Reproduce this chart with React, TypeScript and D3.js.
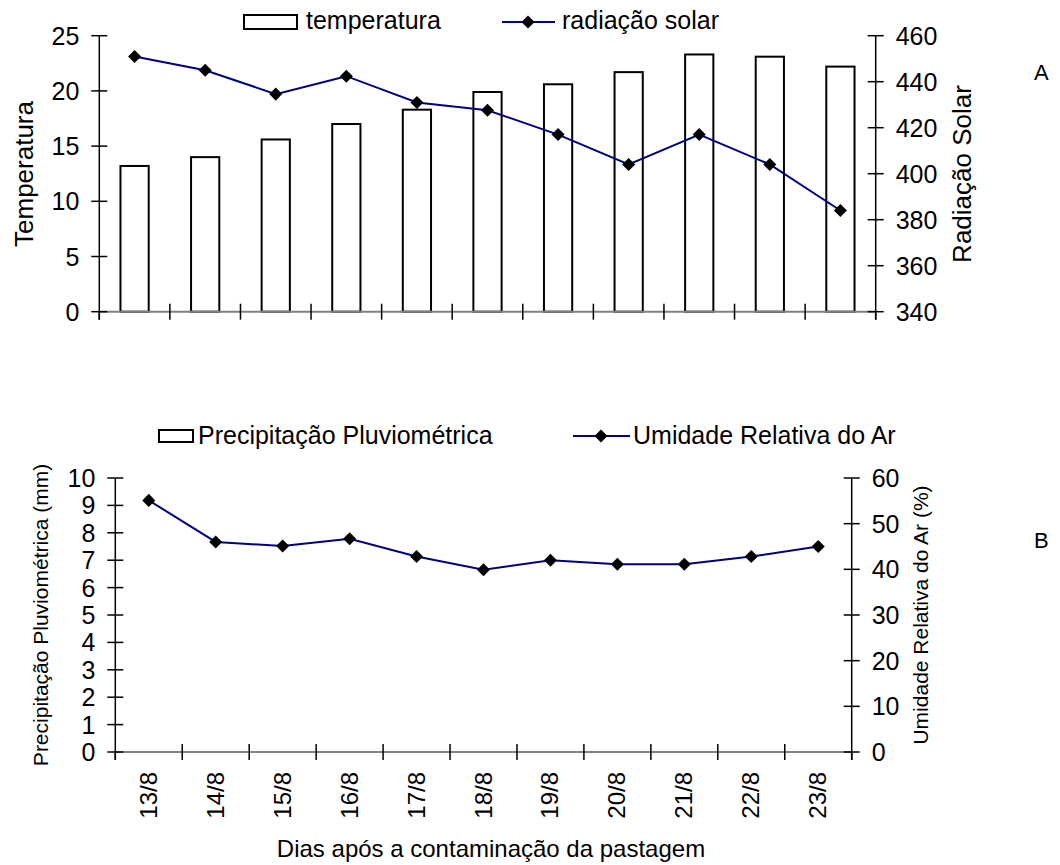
import React from "react";
import * as d3 from "d3";

const dates = ["13/8", "14/8", "15/8", "16/8", "17/8", "18/8", "19/8", "20/8", "21/8", "22/8", "23/8"];
const temperatura = [13.2, 14.0, 15.6, 17.0, 18.3, 19.9, 20.6, 21.7, 23.3, 23.1, 22.2];
const radiacao = [451, 445, 434.6, 442.4, 431, 427.6, 417, 404, 417, 404, 384];
const precipitacao = [0, 0, 0, 0, 0, 0, 0, 0, 0, 0, 0];
const umidade = [55.1, 46, 45.1, 46.7, 42.8, 39.9, 42, 41.1, 41.1, 42.8, 45];
const tempTicks = [0, 5, 10, 15, 20, 25];
const radTicks = [340, 360, 380, 400, 420, 440, 460];
const precTicks = [0, 1, 2, 3, 4, 5, 6, 7, 8, 9, 10];
const umidTicks = [0, 10, 20, 30, 40, 50, 60];

const FONT = "'Liberation Sans', Arial, sans-serif";
const NAVY = "#000080";
const diamond = d3.symbol().type(d3.symbolSquare).size(85)();

type PanelProps = {
  x0: number; x1: number; yTop: number; yBot: number;
  leftDomain: [number, number]; rightDomain: [number, number];
  leftTicks: number[]; rightTicks: number[];
  bars: number[]; line: number[];
  showLabels: boolean; tickFont: number;
};

function Panel(p: PanelProps) {
  const x = d3.scaleBand<string>().domain(dates).range([p.x0, p.x1]).paddingInner(0).paddingOuter(0);
  const yL = d3.scaleLinear().domain(p.leftDomain).range([p.yBot, p.yTop]);
  const yR = d3.scaleLinear().domain(p.rightDomain).range([p.yBot, p.yTop]);
  const bw = x.bandwidth() / 2.5;
  const cx = (d: string) => (x(d) as number) + x.bandwidth() / 2;
  const lineGen = d3.line<number>().x((_, i) => cx(dates[i])).y((v) => yR(v));
  const boundaries = dates.map((d) => x(d) as number).concat([p.x1]);
  return (
    <g>
      {p.bars.map((v, i) =>
        v > 0 ? (
          <rect key={"b" + i} x={cx(dates[i]) - bw / 2} y={yL(v)} width={bw} height={p.yBot - yL(v)}
            fill="white" stroke="black" strokeWidth={2} />
        ) : null
      )}
      <line x1={p.x0} x2={p.x1} y1={p.yBot} y2={p.yBot} stroke="#808080" strokeWidth={2} />
      {boundaries.map((b, i) => (
        <line key={"xt" + i} x1={b} x2={b} y1={p.yBot - (i === 0 || i === dates.length ? 0 : 8)} y2={p.yBot + 8} stroke="black" strokeWidth={1.5} />
      ))}
      <line x1={p.x0} x2={p.x0} y1={p.yTop} y2={p.yBot + 8} stroke="black" strokeWidth={1.5} />
      <line x1={p.x1} x2={p.x1} y1={p.yTop} y2={p.yBot + 8} stroke="black" strokeWidth={1.5} />
      {p.leftTicks.map((t) => (
        <g key={"lt" + t}>
          <line x1={p.x0 - 8} x2={p.x0 + 8} y1={yL(t)} y2={yL(t)} stroke="black" strokeWidth={1.5} />
          <text x={p.x0 - 20} y={yL(t)} dy="0.36em" textAnchor="end" fontSize={p.tickFont} fontFamily={FONT}>{t}</text>
        </g>
      ))}
      {p.rightTicks.map((t) => (
        <g key={"rt" + t}>
          <line x1={p.x1 - 8} x2={p.x1 + 8} y1={yR(t)} y2={yR(t)} stroke="black" strokeWidth={1.5} />
          <text x={p.x1 + 20} y={yR(t)} dy="0.36em" textAnchor="start" fontSize={p.tickFont} fontFamily={FONT}>{t}</text>
        </g>
      ))}
      <path d={lineGen(p.line) || ""} fill="none" stroke={NAVY} strokeWidth={2} />
      {p.line.map((v, i) => (
        <path key={"m" + i} d={diamond} transform={`translate(${cx(dates[i])},${yR(v)}) rotate(45)`} fill="black" />
      ))}
      {p.showLabels &&
        dates.map((d) => (
          <text key={"xl" + d} transform={`translate(${cx(d) + 8},${p.yBot + 20}) rotate(-90)`} textAnchor="end"
            fontSize={24} fontFamily={FONT}>{d}</text>
        ))}
    </g>
  );
}

export default function App() {
  return (
    <svg width={1060} height={865} style={{ position: "absolute", left: 0, top: 0, background: "white" }}
      fontFamily={FONT}>
      <rect width={1060} height={865} fill="white" />
      {/* Panel A */}
      <Panel x0={99.3} x1={875.7} yTop={35.7} yBot={311.7} leftDomain={[0, 25]} rightDomain={[340, 460]}
        leftTicks={tempTicks} rightTicks={radTicks} bars={temperatura} line={radiacao} showLabels={false} tickFont={25} />
      {/* Legend A */}
      <rect x={244} y={15} width={53} height={14} fill="white" stroke="black" strokeWidth={2} />
      <text x={306} y={29} fontSize={25} fontFamily={FONT}>temperatura</text>
      <line x1={502} x2={555} y1={22} y2={22} stroke={NAVY} strokeWidth={2} />
      <path d={diamond} transform="translate(528,22) rotate(45)" fill="black" />
      <text x={562} y={29} fontSize={25} fontFamily={FONT}>radiação solar</text>
      <text transform="translate(33,174) rotate(-90)" textAnchor="middle" fontSize={26} fontFamily={FONT}>Temperatura</text>
      <text transform="translate(971,174) rotate(-90)" textAnchor="middle" fontSize={26} fontFamily={FONT}>Radiação Solar</text>
      <text x={1034} y={80} fontSize={22} fontFamily={FONT}>A</text>

      {/* Panel B */}
      <Panel x0={115.3} x1={851.7} yTop={478} yBot={752} leftDomain={[0, 10]} rightDomain={[0, 60]}
        leftTicks={precTicks} rightTicks={umidTicks} bars={precipitacao} line={umidade} showLabels={true} tickFont={25} />
      <rect x={159} y={430} width={34} height={12} fill="white" stroke="black" strokeWidth={2} />
      <text x={198} y={444} fontSize={25} fontFamily={FONT}>Precipitação Pluviométrica</text>
      <line x1={573} x2={630} y1={436} y2={436} stroke={NAVY} strokeWidth={2} />
      <path d={diamond} transform="translate(601,436) rotate(45)" fill="black" />
      <text x={633} y={444} fontSize={25} fontFamily={FONT}>Umidade Relativa do Ar</text>
      <text transform="translate(48,615) rotate(-90)" textAnchor="middle" fontSize={21} fontFamily={FONT}>Precipitação Pluviométrica (mm)</text>
      <text transform="translate(928,615) rotate(-90)" textAnchor="middle" fontSize={21} fontFamily={FONT}>Umidade Relativa do Ar (%)</text>
      <text x={1034} y={548} fontSize={22} fontFamily={FONT}>B</text>
      <text x={491} y={857} textAnchor="middle" fontSize={24} fontFamily={FONT}>Dias após a contaminação da pastagem</text>
    </svg>
  );
}
